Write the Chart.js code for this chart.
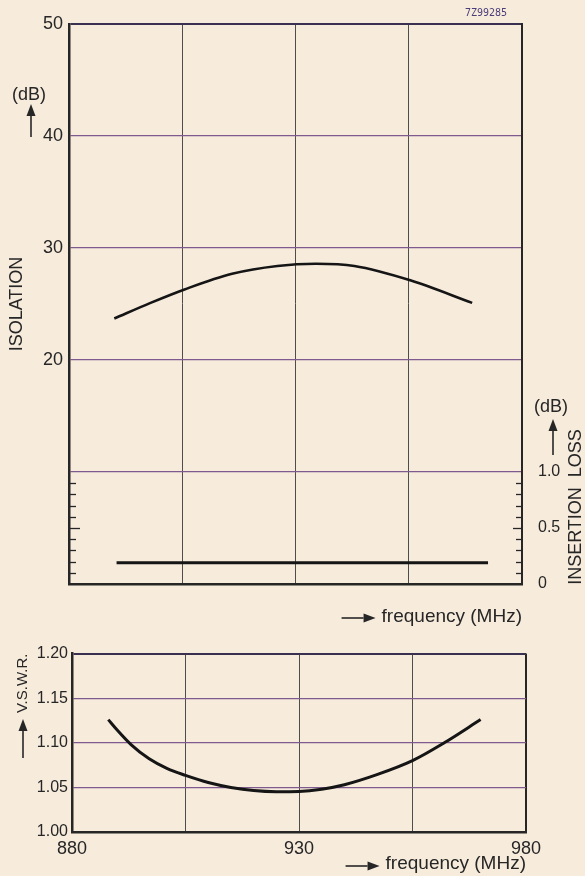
<!DOCTYPE html>
<html>
<head>
<meta charset="utf-8">
<script src="https://cdn.jsdelivr.net/npm/chart.js@4.4.0/dist/chart.umd.min.js"></script>
<style>
  body { margin: 0; background: #f7ebdc; width: 585px; height: 876px; overflow: hidden; position: relative; }
  canvas { position: absolute; left: 0; }
  #isolation { top: 0; }
  #vswr { top: 640px; }
</style>
</head>
<body>
<canvas id="isolation" width="585" height="640"></canvas>
<canvas id="vswr" width="585" height="236"></canvas>
<script>
// frequency axis (MHz)
const freqMin = 880, freqMax = 980, freqStep = 25;
const freqLabels = [880, 930, 980];

// isolation (dB), left axis of the upper chart
const isolationFreq = [890, 898, 905.5, 916, 926, 934.5, 943, 955.5, 969];
const isolationDb = [23.7, 25.1, 26.3, 27.7, 28.4, 28.6, 28.4, 27.1, 25.1];
const isolationTicks = [20, 30, 40, 50];
const isolationMinor = [1, 2, 3, 4, 5, 6, 7, 8, 9];

// insertion loss (dB), right axis of the upper chart
const lossFreq = [890.5, 972.5];
const lossDb = [0.19, 0.19];
const lossTicks = [0, 0.5, 1.0];
const lossMinor = [0.1, 0.2, 0.3, 0.4, 0.5, 0.6, 0.7, 0.8, 0.9];

// V.S.W.R., lower chart
const vswrFreq = [888, 890, 893, 897, 901, 905, 910, 915, 920, 925, 930, 935, 940, 947, 955, 962, 970];
const vswrVal = [1.126, 1.114, 1.098, 1.082, 1.071, 1.0635, 1.0555, 1.050, 1.0465, 1.0452, 1.0455, 1.048, 1.053, 1.064, 1.080, 1.100, 1.126];

const FONT = 'Liberation Sans';
const INK = '#262626';
const GRID_H = '#7f5a8e';
const GRID_V = '#4d4d4d';

const pts = (xs, ys) => xs.map((x, i) => ({ x: x, y: ys[i] }));

function line(ctx, x1, y1, x2, y2) {
    ctx.beginPath();
    ctx.moveTo(x1, y1);
    ctx.lineTo(x2, y2);
    ctx.stroke();
}

// straight arrow with a filled head at (x2, y2)
function arrow(ctx, x1, y1, x2, y2) {
    const ang = Math.atan2(y2 - y1, x2 - x1);
    const hl = 12, hw = 4.5;
    ctx.lineWidth = 1.6;
    line(ctx, x1, y1, x2 - hl * Math.cos(ang), y2 - hl * Math.sin(ang));
    ctx.beginPath();
    ctx.moveTo(x2, y2);
    ctx.lineTo(x2 - hl * Math.cos(ang) + hw * Math.sin(ang), y2 - hl * Math.sin(ang) - hw * Math.cos(ang));
    ctx.lineTo(x2 - hl * Math.cos(ang) - hw * Math.sin(ang), y2 - hl * Math.sin(ang) + hw * Math.cos(ang));
    ctx.closePath();
    ctx.fill();
}

function freqArrow(ctx, chart, y) {
    ctx.font = '19px "' + FONT + '"';
    const w = ctx.measureText('frequency (MHz)').width;
    const end = chart.chartArea.right - w - 6;
    arrow(ctx, end - 34, y, end, y);
}

const upperNotes = {
    id: 'upperNotes',
    afterDraw(chart) {
        const { ctx, chartArea: a, scales } = chart;
        ctx.save();
        ctx.strokeStyle = INK;
        ctx.fillStyle = INK;
        // small inward ticks on both sides of the lower part
        ctx.lineWidth = 1.3;
        isolationMinor.forEach(v => {
            const y = Math.round(scales.y.getPixelForValue(v)) + 0.5;
            line(ctx, a.left, y, a.left + (v === 5 ? 11 : 7), y);
        });
        lossMinor.forEach(v => {
            const y = Math.round(scales.y2.getPixelForValue(v)) + 0.5;
            line(ctx, a.right - (Math.abs(v - 0.5) < 1e-6 ? 9 : 6), y, a.right, y);
        });
        // unit labels and arrows
        ctx.font = '18px "' + FONT + '"';
        ctx.textAlign = 'center';
        ctx.textBaseline = 'middle';
        ctx.fillText('(dB)', 29, 95);
        arrow(ctx, 31, 137, 31, 104);
        ctx.fillText('(dB)', 551, 407);
        arrow(ctx, 553, 455, 553, 419);
        ctx.save();
        ctx.translate(576, 507);
        ctx.rotate(-Math.PI / 2);
        ctx.font = '18px "' + FONT + '"';
        ctx.fillText('INSERTION  LOSS', 0, 0);
        ctx.restore();
        ctx.font = '10px "DejaVu Sans Mono"';
        ctx.fillStyle = '#4b3d7a';
        ctx.fillText('7Z99285', 486, 13);
        ctx.fillStyle = INK;
        freqArrow(ctx, chart, 618);
        ctx.restore();
    }
};

const lowerNotes = {
    id: 'lowerNotes',
    afterDraw(chart) {
        const { ctx } = chart;
        ctx.save();
        ctx.strokeStyle = INK;
        ctx.fillStyle = INK;
        arrow(ctx, 23, 118, 23, 79);
        freqArrow(ctx, chart, 226);
        ctx.restore();
    }
};

const xScale = (showLabels, height, titlePad) => ({
    type: 'linear',
    min: freqMin,
    max: freqMax,
    afterFit: s => { s.height = height; },
    border: { display: true, color: INK, width: 2.5 },
    grid: {
        drawTicks: false,
        color: c => c.tick.value === freqMax ? INK : GRID_V,
        lineWidth: c => c.tick.value === freqMax ? 2 : 1
    },
    ticks: {
        display: showLabels,
        stepSize: freqStep,
        autoSkip: false,
        maxRotation: 0,
        padding: 6,
        color: INK,
        font: { family: FONT, size: 18 },
        callback: v => freqLabels.includes(v) ? String(v) : ''
    },
    title: {
        display: true,
        text: 'frequency (MHz)',
        align: 'end',
        color: INK,
        font: { family: FONT, size: 19 },
        padding: { top: 0, bottom: titlePad }
    }
});

new Chart(document.getElementById('isolation'), {
    type: 'line',
    data: {
        datasets: [{
            data: pts(isolationFreq, isolationDb),
            yAxisID: 'y',
            borderColor: '#151515',
            borderWidth: 2.6,
            pointRadius: 0,
            cubicInterpolationMode: 'monotone'
        }, {
            data: pts(lossFreq, lossDb),
            yAxisID: 'y2',
            borderColor: '#151515',
            borderWidth: 3,
            pointRadius: 0
        }]
    },
    options: {
        responsive: false,
        devicePixelRatio: 1,
        animation: false,
        layout: { padding: { top: 24, bottom: 0, left: 0, right: 0 } },
        plugins: { legend: { display: false }, tooltip: { enabled: false } },
        scales: {
            x: xScale(false, 56, 12),
            y: {
                position: 'left',
                min: 0,
                max: 50,
                afterFit: s => { s.width = 69; },
                border: { display: true, color: INK, width: 2.5 },
                grid: {
                    drawTicks: false,
                    color: c => c.tick.value === 50 ? '#3a3050' : GRID_H,
                    lineWidth: c => c.tick.value === 50 ? 2 : 1.2
                },
                ticks: {
                    stepSize: 10,
                    padding: 6,
                    color: INK,
                    font: { family: FONT, size: 18 },
                    callback: v => isolationTicks.includes(v) ? String(v) : ''
                },
                title: {
                    display: true,
                    text: 'ISOLATION',
                    color: INK,
                    font: { family: FONT, size: 18 },
                    padding: { top: 6, bottom: 0 }
                }
            },
            y2: {
                position: 'right',
                min: 0,
                max: 5,
                afterFit: s => { s.width = 63; },
                border: { display: true, color: INK, width: 2 },
                grid: { display: false },
                ticks: {
                    stepSize: 0.5,
                    autoSkip: false,
                    padding: 8,
                    color: INK,
                    font: { family: FONT, size: 16 },
                    callback: v => lossTicks.includes(v) ? (v === 0 ? '0' : v.toFixed(1)) : ''
                }
            }
        }
    },
    plugins: [upperNotes]
});

new Chart(document.getElementById('vswr'), {
    type: 'line',
    data: {
        datasets: [{
            data: pts(vswrFreq, vswrVal),
            borderColor: '#151515',
            borderWidth: 3,
            pointRadius: 0,
            cubicInterpolationMode: 'monotone'
        }]
    },
    options: {
        responsive: false,
        devicePixelRatio: 1,
        animation: false,
        layout: { padding: { top: 13, bottom: 0, left: 0, right: 59 } },
        plugins: { legend: { display: false }, tooltip: { enabled: false } },
        scales: {
            x: xScale(true, 44, 1),
            y: {
                min: 1.0,
                max: 1.2,
                afterFit: s => { s.width = 72; },
                border: { display: true, color: INK, width: 2.5 },
                grid: {
                    drawTicks: false,
                    color: c => c.index === 4 ? '#3a3050' : GRID_H,
                    lineWidth: c => c.index === 4 ? 2 : 1.2
                },
                ticks: {
                    stepSize: 0.05,
                    padding: 4,
                    color: INK,
                    font: { family: FONT, size: 16 },
                    callback: v => v.toFixed(2)
                },
                title: {
                    display: true,
                    text: 'V.S.W.R.',
                    align: 'end',
                    color: INK,
                    font: { family: FONT, size: 15 },
                    padding: { top: 14, bottom: 0 }
                }
            }
        }
    },
    plugins: [lowerNotes]
});
</script>
</body>
</html>
